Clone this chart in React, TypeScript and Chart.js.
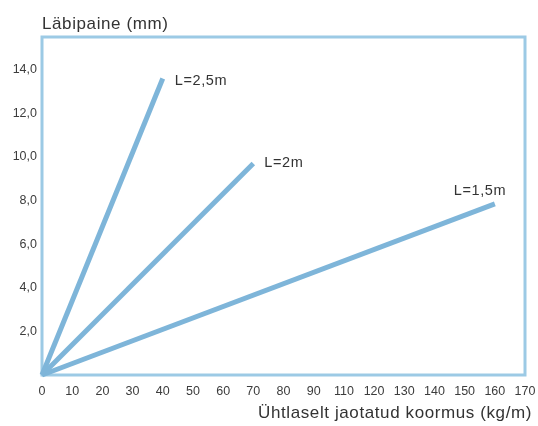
import React, { useEffect, useRef } from "react";
import { Chart, registerables } from "chart.js";

Chart.register(...registerables);

// ---- data ----
const xTickLabels = ["0", "10", "20", "30", "40", "50", "60", "70", "80", "90", "110", "120", "130", "140", "150", "160", "170"];
const yTickValues = [2, 4, 6, 8, 10, 12, 14];
const seriesNames = ["L=2,5m", "L=2m", "L=1,5m"];
const span25X = ["0", "40"];
const span25Y = [0, 13.6];
const span20X = ["0", "70"];
const span20Y = [0, 9.7];
const span15X = ["0", "160"];
const span15Y = [0, 7.85];
const yTitle = "Läbipaine (mm)";
const xTitle = "Ühtlaselt jaotatud koormus (kg/m)";

// ---- style ----
const FONT = "'Liberation Sans', Arial, Helvetica, sans-serif";
const LINE_COLOR = "#7eb5d9";
const BOX_COLOR = "#9ccae5";
const TEXT_COLOR = "#333333";
const TICK_COLOR = "#3c3c3c";
const labelStyle = [
  { dx: 12, dy: 3 },
  { dx: 11, dy: 0 },
  { dx: -41, dy: -13 },
];

const toPoints = (xs: string[], ys: number[]) => xs.map((x, i) => ({ x, y: ys[i] }));

const decorPlugin = {
  id: "decor",
  beforeDatasetsDraw(chart: any) {
    const { ctx, chartArea } = chart;
    ctx.save();
    ctx.strokeStyle = BOX_COLOR;
    ctx.lineWidth = 3;
    ctx.strokeRect(chartArea.left, chartArea.top, chartArea.right - chartArea.left, chartArea.bottom - chartArea.top);
    ctx.restore();
  },
  afterDraw(chart: any) {
    const { ctx, chartArea } = chart;
    ctx.save();
    ctx.fillStyle = TEXT_COLOR;
    ctx.font = `17px ${FONT}`;
    (ctx as any).letterSpacing = "0.6px";
    ctx.textBaseline = "alphabetic";
    ctx.textAlign = "left";
    ctx.fillText(yTitle, chartArea.left, 29);
    ctx.textAlign = "right";
    ctx.fillText(xTitle, chartArea.right + 7, 418);
    ctx.font = `14.5px ${FONT}`;
    (ctx as any).letterSpacing = "0.6px";
    ctx.textAlign = "left";
    ctx.textBaseline = "middle";
    chart.data.datasets.forEach((ds: any, i: number) => {
      const meta = chart.getDatasetMeta(i);
      const last = meta.data[meta.data.length - 1];
      if (!last) return;
      const st = labelStyle[i];
      ctx.fillText(ds.label, last.x + st.dx, last.y + st.dy);
    });
    (ctx as any).letterSpacing = "0px";
    ctx.restore();
  },
};

export default function App() {
  const ref = useRef<HTMLCanvasElement | null>(null);

  useEffect(() => {
    if (!ref.current) return;
    const mkDs = (label: string, data: any[]) => ({
      label,
      data,
      borderColor: LINE_COLOR,
      backgroundColor: LINE_COLOR,
      borderWidth: 5,
      borderCapStyle: "butt" as const,
      pointRadius: 0,
      tension: 0,
      fill: false,
      clip: false as any,
    });
    const chart = new Chart(ref.current, {
      type: "line",
      data: {
        labels: xTickLabels,
        datasets: [
          mkDs(seriesNames[0], toPoints(span25X, span25Y)),
          mkDs(seriesNames[1], toPoints(span20X, span20Y)),
          mkDs(seriesNames[2], toPoints(span15X, span15Y)),
        ],
      },
      options: {
        animation: false,
        responsive: true,
        maintainAspectRatio: false,
        layout: { padding: { left: 0, right: 13, top: 37, bottom: 0 } },
        plugins: { legend: { display: false }, tooltip: { enabled: false }, title: { display: false } },
        scales: {
          x: {
            type: "category",
            offset: false,
            grid: { display: false, drawTicks: false },
            border: { display: false },
            ticks: {
              autoSkip: false,
              maxRotation: 0,
              minRotation: 0,
              padding: 9,
              color: TICK_COLOR,
              font: { family: FONT, size: 12.5 },
            },
            afterFit(scale: any) {
              scale.height = 51;
              scale.paddingLeft = 0;
              scale.paddingRight = 0;
            },
          },
          y: {
            type: "linear",
            min: 0,
            max: 15.5,
            grid: { display: false, drawTicks: false },
            border: { display: false },
            afterBuildTicks(scale: any) {
              scale.ticks = yTickValues.map((v) => ({ value: v }));
            },
            ticks: {
              padding: 5,
              color: TICK_COLOR,
              font: { family: FONT, size: 12.5 },
              callback: (v: any) => Number(v).toFixed(1).replace(".", ","),
            },
            afterFit(scale: any) {
              scale.width = 42;
              scale.paddingTop = 0;
              scale.paddingBottom = 0;
            },
          },
        },
      },
      plugins: [decorPlugin],
    });
    return () => chart.destroy();
  }, []);

  return (
    <div style={{ position: "fixed", left: 0, top: 0, width: 538, height: 426, background: "#fff" }}>
      <canvas ref={ref} />
    </div>
  );
}
